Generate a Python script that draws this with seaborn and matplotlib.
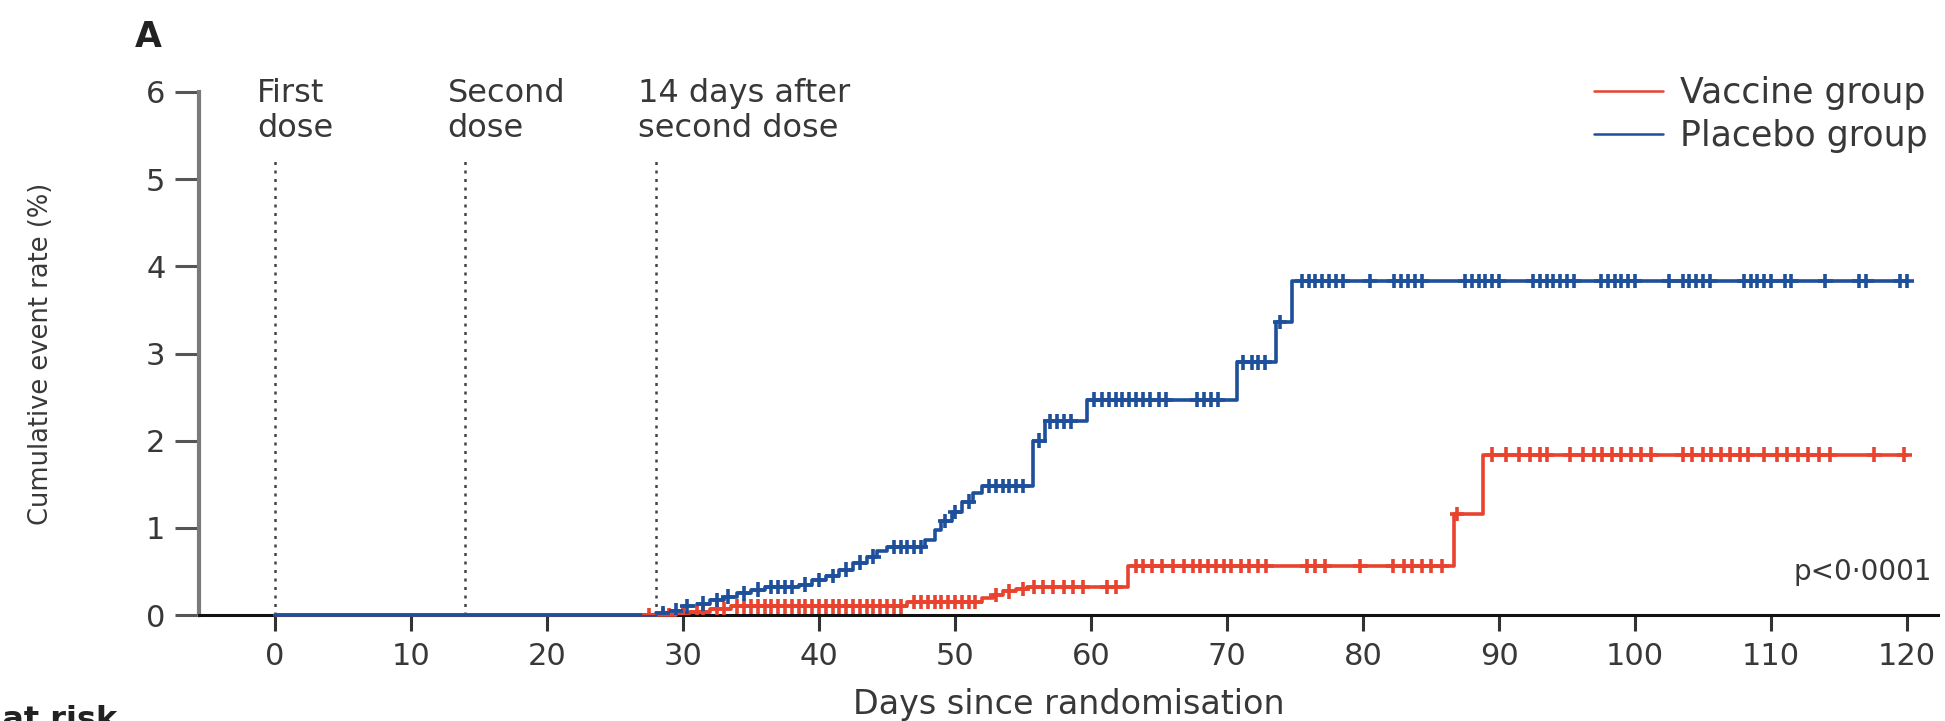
import numpy as np
import pandas as pd
import matplotlib
matplotlib.use("Agg")
import matplotlib.pyplot as plt
import seaborn as sns

# ---------------- data ----------------
groups = ["Vaccine group", "Placebo group"]

vaccine_times = [0.0, 27.5, 29.5, 30.5, 32.0, 33.5, 46.5, 52.0, 52.8, 53.5, 54.5, 55.3, 62.7, 86.7, 88.8, 120.0]
vaccine_rates = [0.0, 0.0, 0.02, 0.04, 0.07, 0.10, 0.15, 0.19, 0.23, 0.27, 0.30, 0.32, 0.56, 1.16, 1.84, 1.84]

placebo_times = [0.0, 28.0, 29.0, 30.0, 31.0, 32.0, 33.0, 34.0, 35.0, 36.0, 38.5, 39.5, 40.5, 41.5,
                 42.5, 43.5, 44.3, 45.0, 47.8, 48.5, 49.0, 49.8, 50.5, 51.3, 52.0, 55.7, 56.6,
                 59.7, 70.7, 73.6, 74.8, 120.0]
placebo_rates = [0.0, 0.02, 0.05, 0.10, 0.13, 0.17, 0.21, 0.25, 0.29, 0.32, 0.35, 0.40, 0.45, 0.52,
                 0.60, 0.67, 0.73, 0.78, 0.86, 0.97, 1.08, 1.18, 1.30, 1.40, 1.48, 2.00, 2.22,
                 2.47, 2.90, 3.36, 3.83, 3.83]

vaccine_censored = [27.5, 28.5, 29, 30, 31, 31.5, 32.5, 33, 34, 34.5, 35, 35.5, 36, 36.5, 37, 37.5,
                    38, 38.5, 39, 39.5, 40, 40.5, 41, 41.5, 42, 42.5, 43, 43.5, 44, 44.5, 45, 45.5,
                    46, 47, 47.5, 48, 48.5, 49, 49.5, 50, 50.5, 51, 51.5, 53, 54, 55, 55.8, 56.5,
                    57.2, 58, 58.7, 59.4, 61.2, 61.8, 63.3, 63.8, 64.5, 65.2, 66, 66.8, 67.5, 68,
                    68.6, 69.2, 69.8, 70.3, 71, 71.6, 72.3, 72.9, 75.9, 76.5, 77.2, 79.8, 82.2, 83,
                    83.6, 84.3, 85, 85.8, 86.9, 89.5, 90.5, 91.5, 92.3, 93, 93.5, 95.2, 96.2, 97,
                    97.6, 98.3, 99, 99.7, 100.4, 101.2, 103.5, 104.2, 105, 105.6, 106.3, 107,
                    107.7, 108.3, 109.5, 110.4, 111.2, 112, 112.7, 113.5, 114.3, 117.6, 119.8]
placebo_censored = [28.5, 29.5, 30.3, 31.5, 32.5, 33.3, 34.5, 35.5, 36.5, 37, 37.5, 38, 39, 40, 41,
                    42, 43, 44, 45.5, 46, 46.5, 47, 47.5, 49.3, 50, 51, 52.5, 53, 53.5, 54, 54.5,
                    55, 56.2, 57, 57.5, 58, 58.5, 60.2, 60.8, 61.3, 61.8, 62.3, 62.8, 63.3, 63.8,
                    64.3, 65, 65.5, 67.8, 68.3, 68.8, 69.3, 71.2, 71.8, 72.3, 72.8, 73.9, 75.5, 76,
                    76.5, 77, 77.5, 78, 78.5, 80.5, 82.3, 82.8, 83.3, 83.8, 84.3, 87.5, 88, 88.5,
                    89, 89.5, 90, 92.5, 93, 93.5, 94, 94.5, 95, 95.5, 97.5, 98, 98.5, 99, 99.5,
                    100, 102.5, 103.5, 104, 104.5, 105, 105.5, 108, 108.5, 109, 109.5, 110, 111,
                    111.5, 114, 116.5, 117, 119.5, 120]

milestone_days = [0, 14, 28]
milestone_labels = ["First\ndose", "Second\ndose", "14 days after\nsecond dose"]
x_ticks = [0, 10, 20, 30, 40, 50, 60, 70, 80, 90, 100, 110, 120]
y_ticks = [0, 1, 2, 3, 4, 5, 6]
p_text = "p<0\u00b70001"

# ---------------- tables ----------------
curves = pd.concat([
    pd.DataFrame({"day": vaccine_times, "rate": vaccine_rates, "group": groups[0]}),
    pd.DataFrame({"day": placebo_times, "rate": placebo_rates, "group": groups[1]}),
], ignore_index=True)


def step_value(times, rates, t):
    idx = np.searchsorted(np.asarray(times), np.asarray(t), side="right") - 1
    return np.asarray(rates)[idx]


cens = pd.concat([
    pd.DataFrame({"day": vaccine_censored,
                  "rate": step_value(vaccine_times, vaccine_rates, vaccine_censored),
                  "group": groups[0]}),
    pd.DataFrame({"day": placebo_censored,
                  "rate": step_value(placebo_times, placebo_rates, placebo_censored),
                  "group": groups[1]}),
], ignore_index=True)

# ---------------- style ----------------
sns.set_theme(style="ticks")
plt.rcParams["font.family"] = ["DejaVu Sans"]
text_col = "#383838"
palette = {groups[0]: "#e8432f", groups[1]: "#1d4f9b"}

fig = plt.figure(figsize=(19.45, 7.21), dpi=100)
x0, x1 = -5.6, 122.3
ax = fig.add_axes([0.1022, 0.147, 0.8944, 0.7254])

for d in milestone_days:
    ax.vlines(d, 0, 5.22, colors="#444444", linestyles=(0, (1.2, 2.2)), linewidth=1.8, zorder=1)

sns.lineplot(data=curves, x="day", y="rate", hue="group", palette=palette, estimator=None,
             drawstyle="steps-post", linewidth=2.6, ax=ax, legend=True, zorder=3)
sns.scatterplot(data=cens, x="day", y="rate", hue="group", palette=palette, marker="+",
                s=110, linewidth=2.6, ax=ax, legend=False, zorder=4)
for ln in ax.lines:
    ln.set_clip_on(False)

ax.set_xlim(x0, x1)
ax.set_ylim(0, 6)
ax.set_xticks(x_ticks)
ax.set_yticks(y_ticks)
ax.tick_params(axis="both", direction="out", width=2.2, labelsize=22,
               colors="#333333", labelcolor=text_col)
ax.tick_params(axis="x", length=11.5, pad=8)
ax.tick_params(axis="y", length=17, pad=7, colors="#555555", labelcolor=text_col)
for s in ["top", "right"]:
    ax.spines[s].set_visible(False)
ax.spines["left"].set_color("#7a7a7a")
ax.spines["left"].set_linewidth(3)
ax.spines["bottom"].set_color("#111111")
ax.spines["bottom"].set_linewidth(2.2)

ax.set_xlabel("Days since randomisation", fontsize=24, color=text_col)
ax.xaxis.set_label_coords(0.5, -0.172)
ax.xaxis.label.set_va("center")
ax.set_ylabel("Cumulative event rate (%)", fontsize=18.5, color=text_col)
ax.yaxis.set_label_coords(-0.0907, 0.5)
ax.yaxis.label.set_va("center")

for d, lab in zip(milestone_days, milestone_labels):
    ax.text(d - 1.3, 6.16, lab, fontsize=23, color=text_col, ha="left", va="top",
            linespacing=1.15, clip_on=False)

ax.text(121.8, 0.49, p_text, fontsize=20, color=text_col, ha="right", va="center")

leg = ax.legend(loc="upper right", bbox_to_anchor=(0.9941, 1.031), frameon=False, fontsize=25,
                handlelength=2.0, handletextpad=0.5, labelspacing=0.27, borderaxespad=0,
                borderpad=0)
for t in leg.get_texts():
    t.set_color(text_col)
for h in leg.get_lines():
    h.set_linewidth(1.8)

fig.text(148 / 1945, 1 - 37 / 721, "A", fontsize=25, fontweight="bold", color="#222222",
         ha="center", va="center")
fig.text(117 / 1945, 1 - 705 / 721, "Number at risk", fontsize=23, fontweight="bold",
         color="#222222", ha="right", va="top")

fig.savefig("out.png", dpi=100)
